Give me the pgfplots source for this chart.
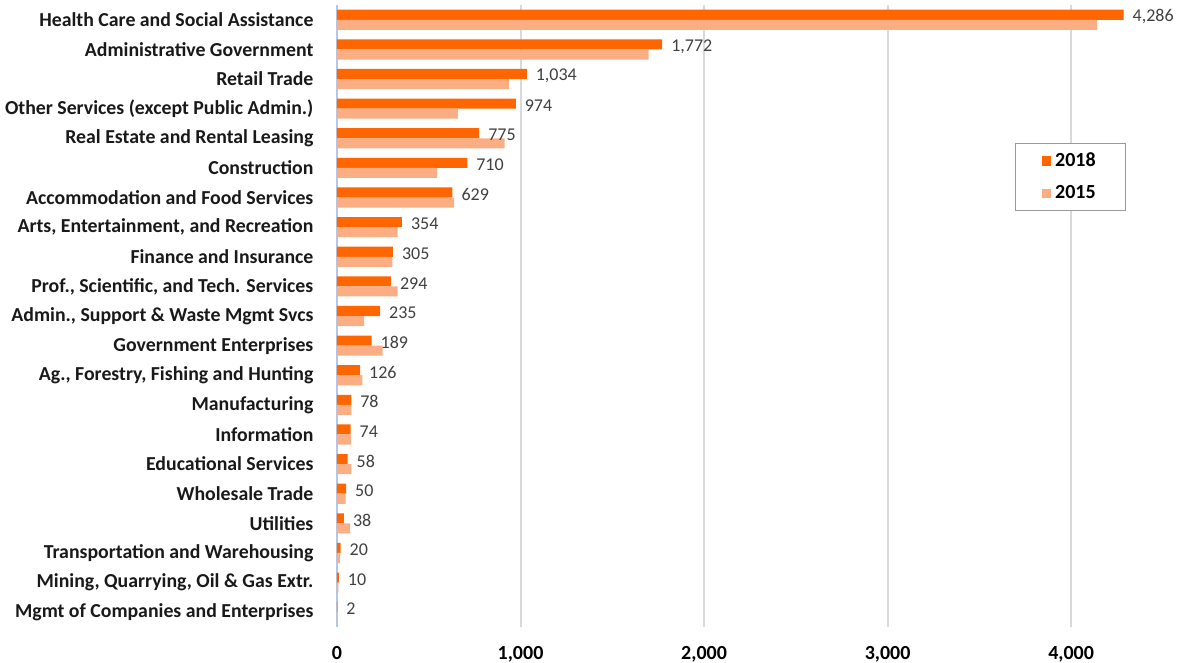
\documentclass[border=0pt]{standalone}
\usepackage{pgfplots}
\pgfplotsset{compat=1.18}
\usepackage{pgfplotstable}
\usepackage{fontspec}
\setmainfont{Carlito}
\definecolor{c18}{HTML}{FF6600}
\definecolor{c15}{HTML}{FBAE84}
\definecolor{gridc}{HTML}{D9D9D9}
\definecolor{axc}{HTML}{B4C7E7}
\definecolor{lab}{HTML}{404040}
\pgfplotstableread{
idx v18 v15
0 4286 4142
1 1772 1698
2 1034 936
3 974 659
4 775 913
5 710 546
6 629 638
7 354 330
8 305 302
9 294 330
10 235 148
11 189 248
12 126 138
13 78 78
14 74 75
15 58 78
16 50 47
17 38 71
18 20 16
19 10 7
20 2 2
}\data
\begin{document}
\begin{tikzpicture}
\begin{axis}[
  scale only axis,
  width=418pt, height=311pt,
  xmin=0, xmax=4555,
  ymin=-0.5, ymax=20.5,
  y dir=reverse,
  xbar, bar width=0.34,
  clip=false,
  axis lines*=left,
  x axis line style={draw=none},
  y axis line style={draw=axc, line width=0.6pt},
  xtick={0,1000,2000,3000,4000},
  xmajorgrids,
  grid style={gridc, line width=1pt},
  xtick style={draw=none},
  ytick style={draw=none},
  ytick={0,...,20},
  yticklabels={Health Care and Social Assistance, Administrative Government, Retail Trade, Other Services (except Public Admin.), Real Estate and Rental Leasing, Construction, Accommodation and Food Services, {Arts, Entertainment, and Recreation}, Finance and Insurance, {Prof., Scientific, and Tech. Services}, {Admin., Support \& Waste Mgmt Svcs}, Government Enterprises, {Ag., Forestry, Fishing and Hunting}, Manufacturing, Information, Educational Services, Wholesale Trade, Utilities, Transportation and Warehousing, {Mining, Quarrying, Oil \& Gas Extr.}, Mgmt of Companies and Enterprises},
  yticklabel style={font=\fontsize{9.9}{12}\selectfont\bfseries, text=black!90, xshift=-4pt},
  xticklabel style={font=\fontsize{10}{12}\selectfont\bfseries, text=black, yshift=-6pt},
  xticklabel={\pgfmathprintnumber[1000 sep={,},assume math mode=true]{\tick}},
  legend style={at={(0.811,0.778)}, anchor=north west, draw=gray!80, line width=0.6pt,
    font=\fontsize{10}{12}\selectfont\bfseries, inner xsep=13pt, inner ysep=2.5pt, row sep=4pt},
  legend cell align=left,
  legend image code/.code={\fill (0pt,-2.4pt) rectangle (4.8pt,2.4pt);},
]
\addplot[fill=c18, draw=none, bar shift=-0.17,
  nodes near coords={\pgfmathprintnumber[1000 sep={,},assume math mode=true]{\pgfplotspointmeta}},
  nodes near coords style={anchor=west, xshift=1pt, yshift=-1pt, text=lab, font=\fontsize{9}{11}\selectfont}]
  table[x=v18, y=idx]{\data};
\addlegendentry{2018}
\addplot[fill=c15, draw=none, bar shift=0.17] table[x=v15, y=idx]{\data};
\addlegendentry{2015}
\end{axis}
\pgfresetboundingbox
\useasboundingbox ([xshift=-168.5pt,yshift=-18pt]current axis.south west) rectangle ([xshift=3.5pt,yshift=2.5pt]current axis.north east);
\end{tikzpicture}
\end{document}
